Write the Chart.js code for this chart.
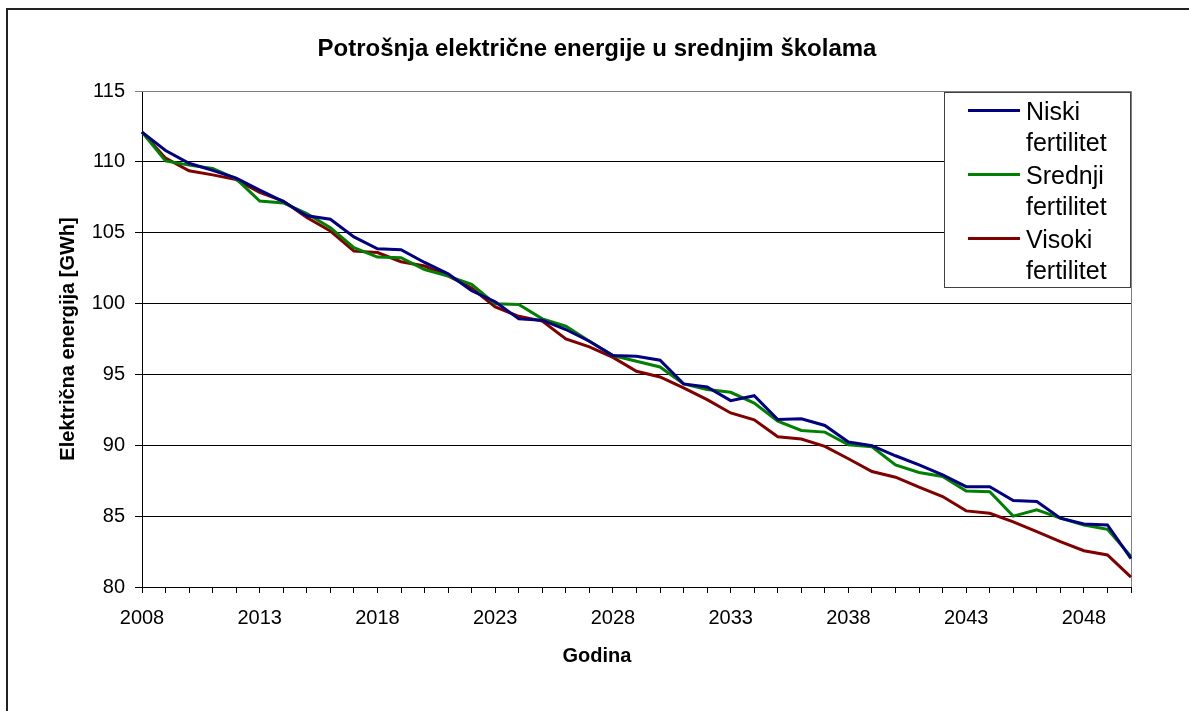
<!DOCTYPE html>
<html>
<head>
<meta charset="utf-8">
<script src="https://cdn.jsdelivr.net/npm/chart.js@4.4.1/dist/chart.umd.min.js"></script>
<style>
  html, body { margin: 0; padding: 0; background: #fff; }
  canvas { display: block; }
</style>
</head>
<body>
<canvas id="c" width="1189" height="711"></canvas>
<script>
const years = [2008,2009,2010,2011,2012,2013,2014,2015,2016,2017,2018,2019,2020,2021,2022,2023,2024,2025,2026,2027,2028,2029,2030,2031,2032,2033,2034,2035,2036,2037,2038,2039,2040,2041,2042,2043,2044,2045,2046,2047,2048,2049,2050];

const niski = [112.1,110.8,109.9,109.4,108.85,108.0,107.2,106.2,105.95,104.7,103.87,103.8,102.9,102.1,100.9,100.13,98.92,98.83,98.17,97.34,96.33,96.28,96.0,94.33,94.12,93.15,93.5,91.82,91.87,91.4,90.23,89.97,89.26,88.62,87.91,87.08,87.08,86.1,86.03,84.86,84.45,84.38,82.0];

const srednji = [112.1,110.07,109.77,109.53,108.8,107.24,107.1,106.35,105.36,103.94,103.28,103.24,102.4,101.94,101.35,99.98,99.93,98.92,98.4,97.34,96.33,95.93,95.53,94.33,93.93,93.74,92.98,91.7,91.05,90.93,90.04,89.9,88.62,88.08,87.8,86.78,86.73,85.0,85.44,84.86,84.38,84.07,82.16];

const visoki = [112.1,110.26,109.37,109.08,108.75,107.84,107.24,106.07,105.12,103.7,103.6,102.95,102.65,101.95,101.1,99.77,99.1,98.76,97.5,96.94,96.2,95.22,94.82,94.05,93.22,92.28,91.8,90.6,90.44,89.92,89.05,88.15,87.75,87.04,86.38,85.37,85.2,84.6,83.9,83.2,82.56,82.26,80.7];

const seriesNames = ['Niski fertilitet', 'Srednji fertilitet', 'Visoki fertilitet'];
const seriesColors = ['#000080', '#008000', '#800000'];
const titleText = 'Potrošnja električne energije u srednjim školama';
const xTitle = 'Godina';
const yTitle = 'Električna energija [GWh]';
const FONT = '"Liberation Sans", Arial, sans-serif';

const framePlugin = {
  id: 'frame',
  beforeDraw(chart) {
    const ctx = chart.ctx;
    ctx.save();
    ctx.fillStyle = '#fff';
    ctx.fillRect(0, 0, chart.width, chart.height);
    ctx.strokeStyle = '#222';
    ctx.lineWidth = 2;
    ctx.strokeRect(7, 9, chart.width + 20, chart.height + 20);
    ctx.restore();
  },
  beforeDatasetsDraw(chart) {
    const a = chart.chartArea, ctx = chart.ctx;
    ctx.save();
    ctx.strokeStyle = '#808080';
    ctx.lineWidth = 1;
    ctx.beginPath();
    ctx.moveTo(a.left, a.top + 0.5);
    ctx.lineTo(a.right + 0.5, a.top + 0.5);
    ctx.lineTo(a.right + 0.5, a.bottom);
    ctx.stroke();
    ctx.restore();
  }
};

const legendPlugin = {
  id: 'boxLegend',
  afterDraw(chart) {
    const a = chart.chartArea, ctx = chart.ctx;
    const boxR = a.right - 1, boxT = a.top + 1;
    const boxL = boxR - 186, boxB = boxT + 195;
    ctx.save();
    ctx.fillStyle = '#fff';
    ctx.fillRect(boxL, boxT, boxR - boxL, boxB - boxT);
    ctx.strokeStyle = '#404040';
    ctx.lineWidth = 1;
    ctx.strokeRect(boxL + 0.5, boxT + 0.5, boxR - boxL, boxB - boxT);
    ctx.font = '25px ' + FONT;
    ctx.fillStyle = '#000';
    ctx.textBaseline = 'alphabetic';
    ctx.textAlign = 'left';
    chart.data.datasets.forEach((ds, i) => {
      const base = boxT + 28 + i * 64;
      ctx.strokeStyle = ds.borderColor;
      ctx.lineWidth = 3;
      ctx.beginPath();
      ctx.moveTo(boxL + 24, base - 9.5);
      ctx.lineTo(boxL + 76, base - 9.5);
      ctx.stroke();
      const parts = ds.label.split(' ');
      parts.forEach((p, j) => ctx.fillText(p, boxL + 82, base + j * 31));
    });
    ctx.restore();
  }
};

new Chart(document.getElementById('c'), {
  type: 'line',
  data: {
    labels: years,
    datasets: [niski, srednji, visoki].map((d, i) => ({
      label: seriesNames[i],
      data: d,
      borderColor: seriesColors[i],
      backgroundColor: seriesColors[i],
      borderWidth: 3,
      pointRadius: 0,
      tension: 0,
      fill: false
    }))
  },
  options: {
    responsive: false,
    animation: false,
    devicePixelRatio: 1,
    layout: { padding: { left: 63, right: 58, top: 0, bottom: 0 } },
    plugins: {
      legend: { display: false },
      tooltip: { enabled: false },
      title: {
        display: true,
        text: titleText,
        color: '#000',
        font: { family: FONT, size: 24, weight: 'bold', lineHeight: 1.2 },
        padding: { top: 35, bottom: 27.2 }
      },
      subtitle: {
        display: true,
        position: 'bottom',
        text: xTitle,
        color: '#000',
        font: { family: FONT, size: 20, weight: 'bold', lineHeight: 1.2 },
        padding: { top: 0, bottom: 43 }
      }
    },
    scales: {
      x: {
        type: 'category',
        offset: false,
        grid: { drawOnChartArea: false, drawTicks: true, tickLength: 6, color: '#000', lineWidth: 1 },
        border: { display: true, color: '#000', width: 1 },
        ticks: {
          autoSkip: false, maxRotation: 0, minRotation: 0, padding: 13,
          color: '#000',
          font: { family: FONT, size: 20 },
          callback: function (v, i) { return (years[i] - years[0]) % 5 === 0 ? String(years[i]) : ''; }
        },
        title: { display: false },
        afterFit(scale) { scale.height = 57; }
      },
      y: {
        min: 80, max: 115,
        grid: {
          drawTicks: true, tickLength: 7, lineWidth: 1,
          color: (c) => (c.tick && c.tick.value === 115) ? '#808080' : '#000'
        },
        border: { display: true, color: '#000', width: 1 },
        ticks: {
          stepSize: 5, padding: 10, color: '#000',
          font: { family: FONT, size: 20 }
        },
        title: {
          display: true, text: yTitle, color: '#000',
          font: { family: FONT, size: 20, weight: 'bold', lineHeight: 1.2 },
          padding: { top: -7, bottom: 0 }
        },
        afterFit(scale) { scale.width = 79; }
      }
    }
  },
  plugins: [framePlugin, legendPlugin]
});
</script>
</body>
</html>
